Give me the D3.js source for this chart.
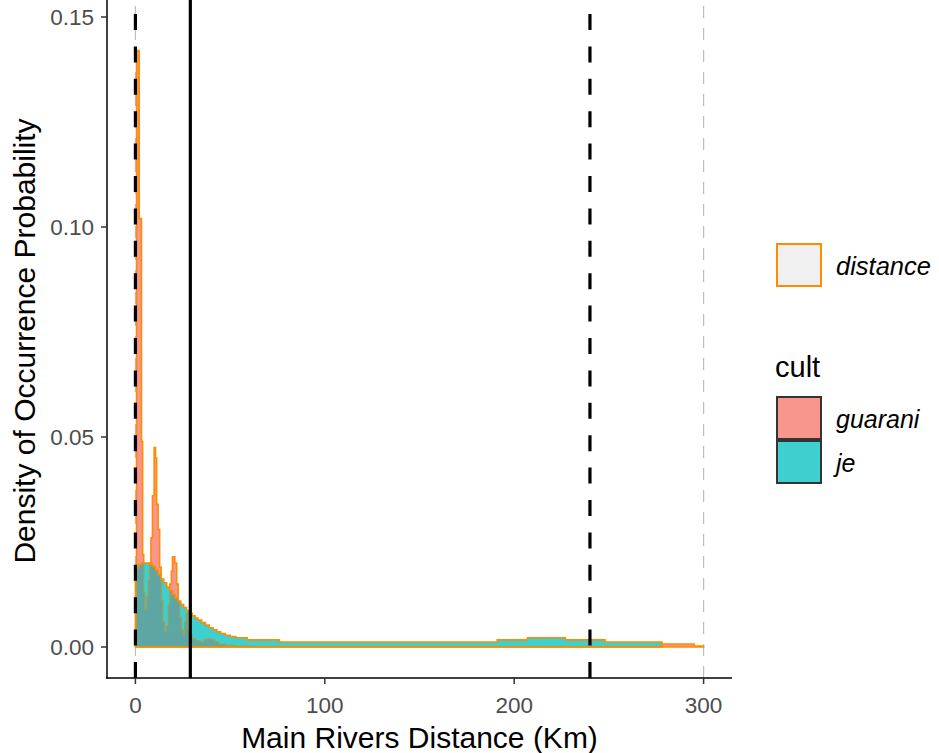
<!DOCTYPE html>
<html><head><meta charset="utf-8">
<script src="https://cdn.jsdelivr.net/npm/d3@7"></script>
<style>body{margin:0;background:#fff} svg{display:block}</style>
</head><body><svg id="chart" width="939" height="753"></svg>
<script>
// ---- data ----
const guaraniKm = [0.6, 2.0, 3.2, 3.8, 4.4, 5.0, 6.0, 6.8, 7.6, 8.2, 9.0, 9.9, 10.6, 11.2, 12.0, 12.8, 13.6, 14.5, 15.5, 16.5, 17.3, 18.2, 19.0, 19.6, 20.8, 21.8, 22.6, 23.4, 24.2, 25.2, 26.0, 26.8, 27.6, 28.4, 30, 32, 34, 36, 38, 40, 42, 44, 47, 52, 60, 278, 295, 300];
const guaraniDensity = [0.142, 0.102, 0.049, 0.022, 0.013, 0.009, 0.012, 0.016, 0.020, 0.026, 0.036, 0.0475, 0.045, 0.034, 0.028, 0.019, 0.011, 0.006, 0.0037, 0.005, 0.010, 0.015, 0.018, 0.0215, 0.020, 0.015, 0.011, 0.007, 0.004, 0.0027, 0.006, 0.008, 0.004, 0.0026, 0.002, 0.0015, 0.0012, 0.0017, 0.002, 0.0017, 0.0012, 0.0007, 0.0004, 0.0002, 0.0001, 0.0007, 0.0002, 0];
const jeKm = [0, 1.5, 3, 7.5, 9, 10.5, 12, 13.5, 15, 16.5, 18, 19.5, 21, 22.5, 24, 25.5, 27, 28.5, 30, 31.5, 33, 35, 37, 39, 41, 43, 45, 47.5, 50, 53, 59, 76, 191, 207, 227, 248, 278];
const jeDensity = [0.0188, 0.0196, 0.0200, 0.0197, 0.0192, 0.0183, 0.0172, 0.0162, 0.0153, 0.0143, 0.0134, 0.0125, 0.0117, 0.0109, 0.0101, 0.0094, 0.0087, 0.0080, 0.0074, 0.0069, 0.0064, 0.0058, 0.0052, 0.0046, 0.0041, 0.0036, 0.0032, 0.0028, 0.0025, 0.0022, 0.0017, 0.0012, 0.0017, 0.0022, 0.0017, 0.0012, 0];
const xTicks = [0, 100, 200, 300];
const yTicks = [0, 0.05, 0.10, 0.15];
const yTickLabels = ["0.00", "0.05", "0.10", "0.15"];
const rangeLinesKm = [0, 300];
const summaryLinesKm = [0, 29, 240];
const summaryLineTypes = ["dashed", "solid", "dashed"];
const cultNames = ["guarani", "je"];
const colorLegendName = ["distance"];

// ---- styles ----
const FONT = "'Liberation Sans', Arial, Helvetica, sans-serif";
const ORANGE = "#FF8C00";
const PINK = "#F8968E";
const TEAL = "#3ECFCF";
const OVERLAP = "#5EA6A3";
const OLIVE = "#93A262";

const svg = d3.select("#chart");
const x = d3.scaleLinear().domain([-15, 315]).range([107, 732]);
const y = d3.scaleLinear().domain([-0.00738, 0.155]).range([678, -4]);

const gData = guaraniKm.map((k, i) => ({k, v: guaraniDensity[i]}));
const jData = jeKm.map((k, i) => ({k, v: jeDensity[i]}));
const area = d3.area().curve(d3.curveStepAfter).x(d => x(d.k)).y0(y(0)).y1(d => y(d.v));

const defs = svg.append("defs");
defs.append("clipPath").attr("id", "jeClip").append("path").attr("d", area(jData));
defs.append("clipPath").attr("id", "panel").append("rect").attr("x", 107).attr("y", -4).attr("width", 625).attr("height", 682);

const panel = svg.append("g").attr("clip-path", "url(#panel)");

// range lines (grey dashed)
panel.selectAll(".range").data(rangeLinesKm).join("line")
  .attr("x1", d => x(d)).attr("x2", d => x(d)).attr("y1", 678).attr("y2", -4)
  .attr("stroke", "#BEBEBE").attr("stroke-width", 1.2).attr("stroke-dasharray", "12,10");

// guarani
panel.append("path").attr("d", area(gData)).attr("fill", PINK)
  .attr("stroke", ORANGE).attr("stroke-width", 1.6).attr("stroke-linejoin", "miter");
// je
panel.append("path").attr("d", area(jData)).attr("fill", TEAL);
// overlap
panel.append("path").attr("d", area(gData)).attr("fill", OVERLAP).attr("clip-path", "url(#jeClip)");
panel.append("path").attr("d", area(gData)).attr("fill", "none").attr("stroke", OLIVE)
  .attr("stroke-width", 1.3).attr("clip-path", "url(#jeClip)");
panel.append("path").attr("d", area(jData)).attr("fill", "none")
  .attr("stroke", ORANGE).attr("stroke-width", 1.6);

// summary lines
panel.selectAll(".summ").data(summaryLinesKm).join("line")
  .attr("x1", d => x(d)).attr("x2", d => x(d)).attr("y1", 678).attr("y2", -4)
  .attr("stroke", "#000").attr("stroke-width", 3.2)
  .attr("stroke-dasharray", (d, i) => summaryLineTypes[i] === "dashed" ? "16,16.4" : null);

// axes
const axisG = svg.append("g");
axisG.append("line").attr("x1", 107).attr("x2", 107).attr("y1", -4).attr("y2", 678.75).attr("stroke", "#000").attr("stroke-width", 1.5);
axisG.append("line").attr("x1", 106.25).attr("x2", 732).attr("y1", 678).attr("y2", 678).attr("stroke", "#000").attr("stroke-width", 1.5);

axisG.selectAll(".yt").data(yTicks).join("line")
  .attr("x1", 101).attr("x2", 107).attr("y1", d => y(d)).attr("y2", d => y(d))
  .attr("stroke", "#333").attr("stroke-width", 1.5);
axisG.selectAll(".ytl").data(yTicks).join("text")
  .attr("x", 94).attr("y", d => y(d)).attr("dy", "0.36em")
  .attr("text-anchor", "end").attr("font-family", FONT).attr("font-size", 22.5).attr("fill", "#4D4D4D")
  .text((d, i) => yTickLabels[i]);
axisG.selectAll(".xt").data(xTicks).join("line")
  .attr("x1", d => x(d)).attr("x2", d => x(d)).attr("y1", 678).attr("y2", 684)
  .attr("stroke", "#333").attr("stroke-width", 1.5);
axisG.selectAll(".xtl").data(xTicks).join("text")
  .attr("x", d => x(d)).attr("y", 713)
  .attr("text-anchor", "middle").attr("font-family", FONT).attr("font-size", 22.5).attr("fill", "#4D4D4D")
  .text(d => d);

svg.append("text").attr("x", 419.5).attr("y", 748).attr("text-anchor", "middle")
  .attr("font-family", FONT).attr("font-size", 30).attr("fill", "#000").text("Main Rivers Distance (Km)");
svg.append("text").attr("transform", "translate(35,341) rotate(-90)").attr("text-anchor", "middle")
  .attr("font-family", FONT).attr("font-size", 30).attr("fill", "#000").text("Density of Occurrence Probability");

// legends
const lg = svg.append("g");
lg.selectAll(".ck").data(colorLegendName).join("rect")
  .attr("x", 777).attr("y", 244).attr("width", 44).attr("height", 42)
  .attr("fill", "#F0F0F0").attr("stroke", ORANGE).attr("stroke-width", 2);
lg.selectAll(".cl").data(colorLegendName).join("text")
  .attr("x", 836).attr("y", 266).attr("dy", "0.36em")
  .attr("font-family", FONT).attr("font-size", 25.5).attr("font-style", "italic").attr("fill", "#000")
  .text(d => d);
lg.append("text").attr("x", 775).attr("y", 377).attr("font-family", FONT).attr("font-size", 29).attr("fill", "#000").text("cult");
const cultFill = [PINK, TEAL];
lg.selectAll(".fk").data(cultNames).join("rect")
  .attr("x", 777).attr("y", (d, i) => 397 + i * 44).attr("width", 44).attr("height", 42)
  .attr("fill", (d, i) => cultFill[i]).attr("stroke", "#333").attr("stroke-width", 2);
lg.selectAll(".fl").data(cultNames).join("text")
  .attr("x", 836).attr("y", (d, i) => 419 + i * 44).attr("dy", "0.36em")
  .attr("font-family", FONT).attr("font-size", 25).attr("font-style", "italic").attr("fill", "#000")
  .text(d => d);
</script></body></html>
